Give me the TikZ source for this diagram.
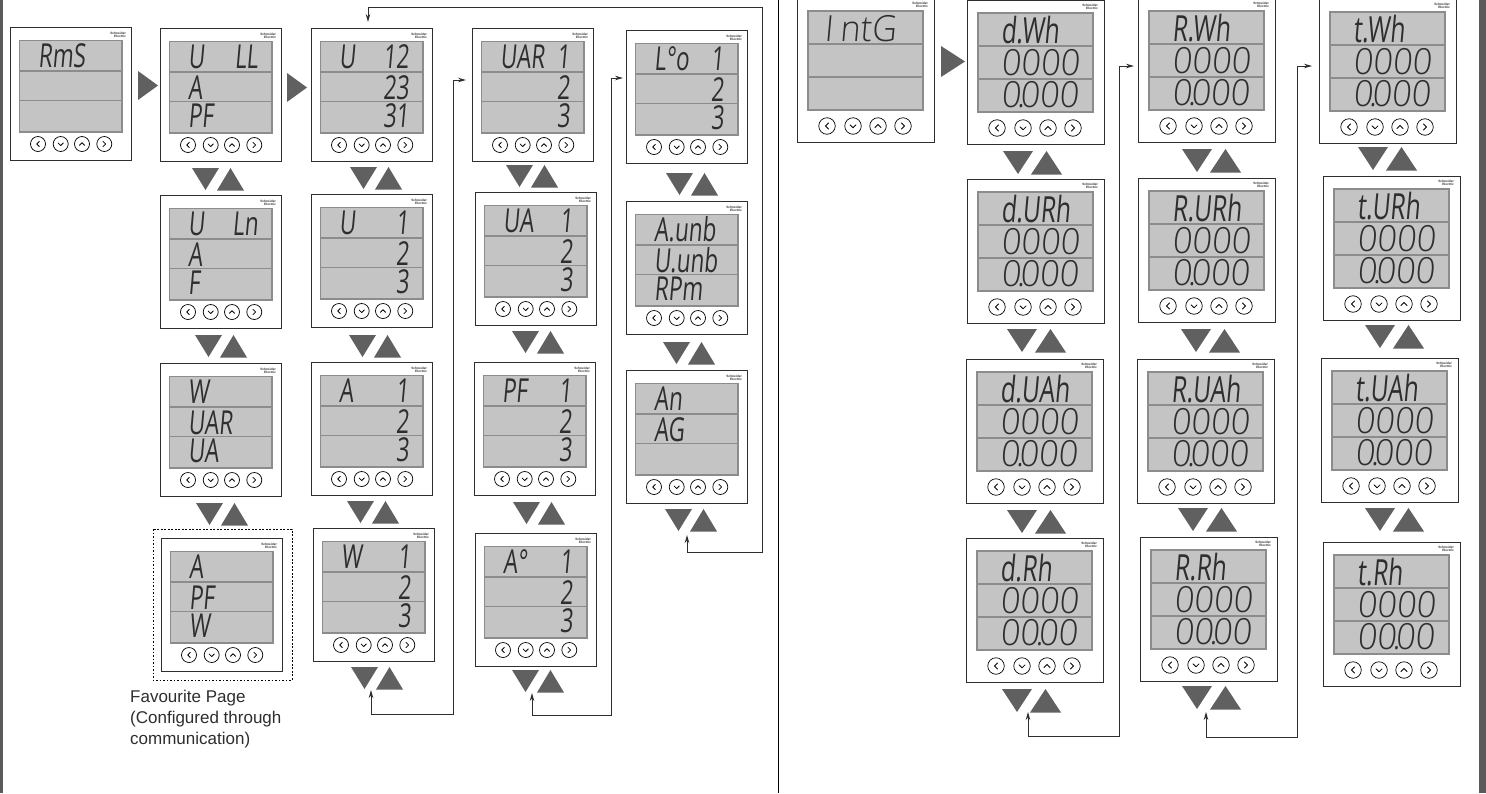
\documentclass[tikz,border=0pt]{standalone}
\usepackage{fontspec}
\usetikzlibrary{arrows.meta}
\setmainfont{Liberation Sans}
\newfontfamily\seg[FakeSlant=0.09,FakeStretch=0.68]{Open Sans}
\newfontfamily\segd[FakeSlant=0.09,FakeStretch=0.95]{Open Sans Light}
\definecolor{barc}{HTML}{5A5A5A}
\definecolor{lcdf}{HTML}{C4C4C4}
\definecolor{lcdb}{HTML}{8C8C8C}
\definecolor{inkc}{HTML}{2E2E2E}
\definecolor{trif}{HTML}{606060}
\tikzset{
  meterbox/.style={draw=inkc,fill=white,line width=1pt,anchor=north west,inner sep=0,minimum width=\mW pt,minimum height=\mH pt},
  lcdpanel/.style={draw=lcdb,fill=lcdf,line width=1.4pt},
  lcdsep/.style={draw=lcdb,line width=1.2pt},
  segleft/.style={font=\seg\fontsize{\fz}{\fz}\selectfont,inner sep=0,text=inkc,anchor=base west},
  segright/.style={font=\seg\fontsize{\fz}{\fz}\selectfont,inner sep=0,text=inkc,anchor=base east},
  logotext/.style={font=\bfseries\fontsize{3.2}{3.4}\selectfont,inner sep=0,align=right,anchor=north east,text=inkc},
  keybtn/.style={circle,draw=black,line width=.7pt,inner sep=0,minimum size=\mR pt},
  chev/.style={draw=black,line width=.8pt,line cap=round,line join=round},
  bothlink/.style={draw=inkc,line width=1pt,{Stealth[length=8pt,width=4.5pt]}-{Stealth[length=8pt,width=4.5pt]}},
  framebar/.style={fill=barc,draw=none},
}
\newcommand{\useSmall}{%
  \def\mW{121}\def\mH{133}\def\mR{15}\def\fz{33}%
  \def\pL{9.5}\def\pR{112}\def\pT{13.5}\def\pB{105}\def\sA{44}\def\sB{73.5}%
  \def\kA{28}\def\kB{50.7}\def\kC{72}\def\kD{94.3}\def\kY{117}%
  \def\tL{28}\def\tR{98}\def\bA{40.5}\def\bB{71}\def\bC{99.5}\def\lgX{116}\def\lgY{4.5}\def\cs{2.6}}
\newcommand{\useBig}{%
  \def\mW{137}\def\mH{144}\def\mR{16.5}\def\fz{36}%
  \def\pL{11}\def\pR{126}\def\pT{13}\def\pB{112}\def\sA{46}\def\sB{79}%
  \def\kA{30}\def\kB{56}\def\kC{81}\def\kD{106}\def\kY{128}%
  \def\tL{34}\def\tR{112}\def\bA{43}\def\bB{75}\def\bC{107}\def\lgX{131}\def\lgY{4}\def\cs{3}}
\newcommand{\dk}{\kern-4pt.\kern-5pt\relax}
% name, x, y, six texts
\newcommand{\meter}[9]{%
 \begin{scope}[shift={(#2,#3)}]
  \node[meterbox] (#1) at (0,0) {};
  \draw[lcdpanel] (\pL,\pT) rectangle (\pR,\pB);
  \draw[lcdsep] (\pL,\sA) -- (\pR,\sA);
  \draw[lcdsep] (\pL,\sB) -- (\pR,\sB);
  \node[logotext] (#1-logo) at (\lgX,\lgY) {Schneider\\Electric};
  \node[keybtn] (#1-k1) at (\kA,\kY) {};
  \node[keybtn] (#1-k2) at (\kB,\kY) {};
  \node[keybtn] (#1-k3) at (\kC,\kY) {};
  \node[keybtn] (#1-k4) at (\kD,\kY) {};
  \draw[chev] ([shift={(\cs*.5,-\cs)}]#1-k1.center) -- ([shift={(-\cs*.5,0)}]#1-k1.center) -- ([shift={(\cs*.5,\cs)}]#1-k1.center);
  \draw[chev] ([shift={(-\cs,-\cs*.4)}]#1-k2.center) -- ([shift={(0,\cs*.6)}]#1-k2.center) -- ([shift={(\cs,-\cs*.4)}]#1-k2.center);
  \draw[chev] ([shift={(-\cs,\cs*.5)}]#1-k3.center) -- ([shift={(0,-\cs*.5)}]#1-k3.center) -- ([shift={(\cs,\cs*.5)}]#1-k3.center);
  \draw[chev] ([shift={(-\cs*.5,-\cs)}]#1-k4.center) -- ([shift={(\cs*.5,0)}]#1-k4.center) -- ([shift={(-\cs*.5,\cs)}]#1-k4.center);
  \if\relax\detokenize{#4}\relax\else\node[segleft] (#1-a) at (\tL,\bA) {#4};\fi
  \if\relax\detokenize{#5}\relax\else\node[segright] (#1-b) at (\tR,\bA) {#5};\fi
  \if\relax\detokenize{#6}\relax\else\node[segleft] (#1-c) at (\tL,\bB) {#6};\fi
  \if\relax\detokenize{#7}\relax\else\node[segright] (#1-d) at (\tR,\bB) {#7};\fi
  \if\relax\detokenize{#8}\relax\else\node[segleft] (#1-e) at (\tL,\bC) {#8};\fi
  \if\relax\detokenize{#9}\relax\else\node[segright] (#1-f) at (\tR,\bC) {#9};\fi
 \end{scope}}
\newcommand{\pairS}[2]{%
  \fill[trif] (#1,#2) -- ++(27,0) -- ++(-13.5,22) -- cycle;
  \fill[trif] (#1+25,#2+22.5) -- ++(27,0) -- ++(-13.5,-22.5) -- cycle;}
\newcommand{\pairB}[2]{%
  \fill[trif] (#1,#2) -- ++(30,0) -- ++(-15,23) -- cycle;
  \fill[trif] (#1+28,#2+23.5) -- ++(31,0) -- ++(-15.5,-23.5) -- cycle;}
\newcommand{\play}[4]{\fill[trif] (#1,#2) -- ++(0,#4) -- ++(#3,-#4/2) -- cycle;}
\begin{document}
\begin{tikzpicture}[x=1pt,y=-1pt]
\useasboundingbox (0,0) rectangle (1486,793);
\fill[white] (0,0) rectangle (1486,793);
\fill[framebar] (0,0) rectangle (3,793);
\fill[framebar] (1479,0) rectangle (1486,793);
\draw[black,line width=1pt] (778,0) -- (778,793);

\useSmall
\meter{rms}{10}{27}{RmS}{}{}{}{}{}
\meter{ull}{160}{28}{U}{LL}{A}{}{PF}{}
\meter{uln}{160}{195}{U}{Ln}{A}{}{F}{}
\meter{wvv}{160}{363}{W}{}{UAR}{}{UA}{}
\meter{fav}{161}{538}{A}{}{PF}{}{W}{}
\meter{ua}{311}{28}{U}{12}{}{23}{}{31}
\meter{ub}{311}{194}{U}{1}{}{2}{}{3}
\meter{ac}{311}{362}{A}{1}{}{2}{}{3}
\meter{wa}{313}{528}{W}{1}{}{2}{}{3}
\meter{var}{472}{28}{UAR}{1}{}{2}{}{3}
\meter{vab}{475}{192}{UA}{1}{}{2}{}{3}
\meter{pfa}{474}{362}{PF}{1}{}{2}{}{3}
\meter{ang}{475}{533}{A°}{1}{}{2}{}{3}
\meter{lod}{626}{30}{L°o}{1}{}{2}{}{3}
\meter{unb}{626}{201}{A.unb}{}{U.unb}{}{RPm}{}
\meter{ang2}{626}{370}{An}{}{AG}{}{}{}

\draw[black,dash pattern=on 1.6pt off 1.9pt,line width=.8pt] (153,529) rectangle (292,680);
\node[anchor=north west,inner sep=0,align=left,font=\fontsize{17}{21}\selectfont,text=inkc] (favnote) at (130,689.5) {Favourite Page\\(Configured through\\communication)};

\play{138}{71}{20}{29}
\play{287}{73}{20}{29}
\pairS{192}{168}\pairS{195}{335}\pairS{196}{503}
\pairS{350}{167}\pairS{349}{335}\pairS{347}{501}\pairS{351}{667}
\pairS{506}{165}\pairS{512}{331}\pairS{513}{502}\pairS{512}{670}
\pairS{666}{173}\pairS{663}{342}\pairS{665}{509}

\useBig
\meter{intg}{797}{-2}{\segd\kern-7pt I\ \kern-2pt ntG}{}{}{}{}{}
\meter{dw}{967}{0}{d.Wh}{}{\segd 0000}{}{\segd 0\dk 000}{}
\meter{dv}{967}{179}{d.URh}{}{\segd 0000}{}{\segd 0\dk 000}{}
\meter{ds}{966}{359}{d.UAh}{}{\segd 0000}{}{\segd 0\dk 000}{}
\meter{dr}{966}{538}{d.Rh}{}{\segd 0000}{}{\segd 00\dk 00}{}
\meter{rw}{1138}{-2}{R.Wh}{}{\segd 0000}{}{\segd 0\dk 000}{}
\meter{rv}{1138}{178}{R.URh}{}{\segd 0000}{}{\segd 0\dk 000}{}
\meter{rs}{1137}{359}{R.UAh}{}{\segd 0000}{}{\segd 0\dk 000}{}
\meter{rr}{1140}{537}{R.Rh}{}{\segd 0000}{}{\segd 00\dk 00}{}
\meter{tw}{1319}{-1}{t.Wh}{}{\segd 0000}{}{\segd 0\dk 000}{}
\meter{tv}{1323}{176}{t.URh}{}{\segd 0000}{}{\segd 0\dk 000}{}
\meter{ts}{1321}{358}{t.UAh}{}{\segd 0000}{}{\segd 0\dk 000}{}
\meter{tr}{1323}{542}{t.Rh}{}{\segd 0000}{}{\segd 00\dk 00}{}

\play{941}{46}{24}{31}
\pairB{1003}{151}\pairB{1007}{329}\pairB{1007}{510}\pairB{1002}{689}
\pairB{1182}{149}\pairB{1181}{329}\pairB{1178}{508}\pairB{1182}{686}
\pairB{1358}{147}\pairB{1365}{325}\pairB{1365}{508}

% connectors: free ends and bends are named coordinates
\coordinate (a0) at (371,690); \coordinate (a1) at (371,714); \coordinate (a2) at (453,714); \coordinate (a3) at (453,80); \coordinate (a4) at (466,80);
\coordinate (b0) at (532,693); \coordinate (b1) at (532,715); \coordinate (b2) at (611,715); \coordinate (b3) at (611,78); \coordinate (b4) at (623,78);
\coordinate (c0) at (687,535); \coordinate (c1) at (687,552); \coordinate (c2) at (762,552); \coordinate (c3) at (762,7); \coordinate (c4) at (368,7); \coordinate (c5) at (368,22);
\coordinate (d0) at (1028,712); \coordinate (d1) at (1028,736); \coordinate (d2) at (1119,736); \coordinate (d3) at (1119,66); \coordinate (d4) at (1134,66);
\coordinate (e0) at (1206,712); \coordinate (e1) at (1206,737); \coordinate (e2) at (1297,737); \coordinate (e3) at (1297,66); \coordinate (e4) at (1312,66);
\draw[bothlink] (a0) -- (a1) -- (a2) -- (a3) -- (a4);
\draw[bothlink] (b0) -- (b1) -- (b2) -- (b3) -- (b4);
\draw[bothlink] (c0) -- (c1) -- (c2) -- (c3) -- (c4) -- (c5);
\draw[bothlink] (d0) -- (d1) -- (d2) -- (d3) -- (d4);
\draw[bothlink] (e0) -- (e1) -- (e2) -- (e3) -- (e4);
\end{tikzpicture}
\end{document}
